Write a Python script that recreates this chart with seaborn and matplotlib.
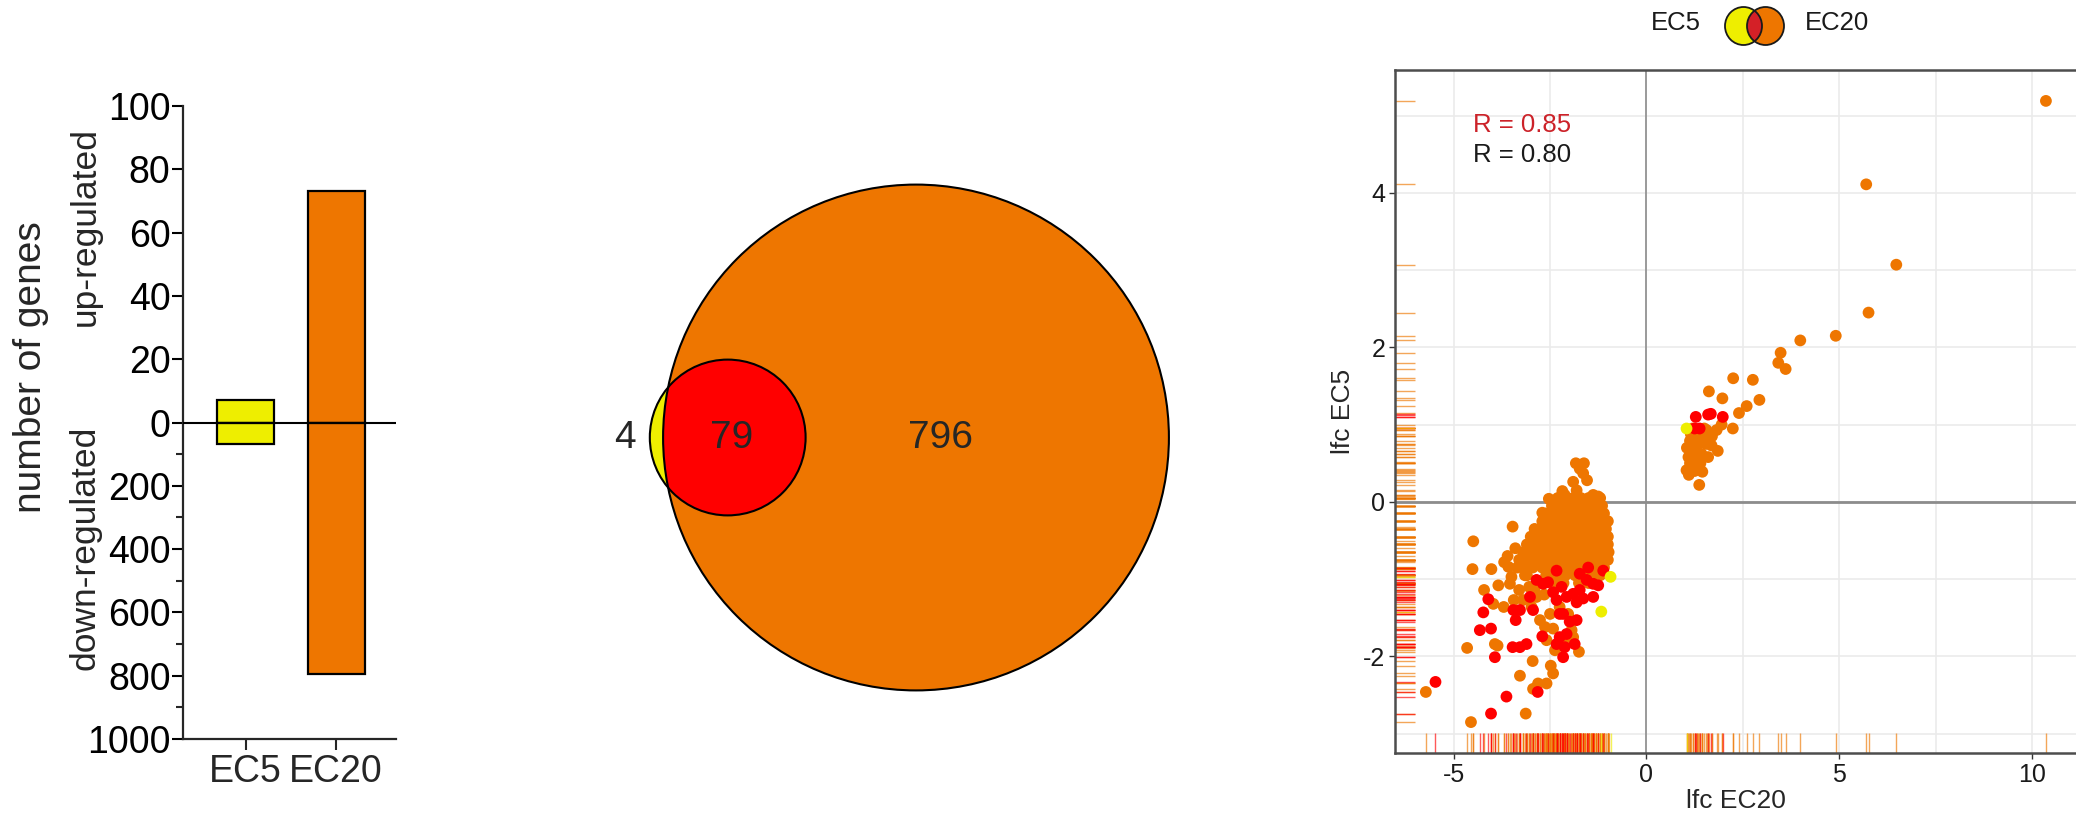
import numpy as np
import pandas as pd
import matplotlib
matplotlib.use("Agg")
import matplotlib.pyplot as plt
import seaborn as sns
from matplotlib.patches import Circle, Ellipse

sns.set_style("ticks")
plt.rcParams['font.family'] = ['Liberation Sans', 'DejaVu Sans']
plt.rcParams['axes.unicode_minus'] = False

YELLOW = '#EEEE00'
ORANGE = '#EE7600'
RED = '#FF0000'

# bar chart: number of DE genes
groups = ['EC5', 'EC20']
n_up = [7, 73]
n_down = [68, 795]

# venn counts
only_ec5 = 4
both = 79
only_ec20 = 796

# scatter: lfc EC20 (x) vs lfc EC5 (y)
orange_x = [10.36, 5.70, 6.48, 5.76, 4.91, 3.99, 3.48, 3.42, 3.61, 2.25, 2.76, 1.62, 1.97, 2.93, 2.60,
            2.40, 2.24, 1.85, 1.60, 1.37, 1.04, 1.45, 1.82, 1.95, 1.55, 1.69, 1.13, 1.22, 1.09, 1.26,
            1.43, 1.56, 1.13, 1.35, 1.05, 1.15, 1.30, 1.45, 1.40, 1.25, 1.10, 1.70, 1.50, 1.30, 1.20,
            # lower cluster, dense part
            -2.3, -2.1, -1.9, -1.7, -1.5, -1.35, -1.2,
            -2.45, -2.25, -2.05, -1.85, -1.65, -1.45, -1.3, -1.15,
            -2.6, -2.4, -2.2, -2.0, -1.8, -1.6, -1.4, -1.25, -1.1,
            -2.7, -2.5, -2.3, -2.1, -1.9, -1.7, -1.5, -1.3, -1.1, -1.0,
            -2.9, -2.65, -2.45, -2.25, -2.05, -1.85, -1.65, -1.45, -1.25, -1.05,
            -3.0, -2.75, -2.55, -2.35, -2.15, -1.95, -1.75, -1.55, -1.35, -1.15, -1.0,
            -3.1, -2.85, -2.6, -2.4, -2.2, -2.0, -1.8, -1.6, -1.4, -1.2, -1.0,
            -3.2, -2.95, -2.7, -2.5, -2.3, -2.1, -1.9, -1.7, -1.5, -1.3, -1.1, -0.98,
            -3.3, -3.05, -2.8, -2.55, -2.35, -2.15, -1.95, -1.75, -1.55, -1.35, -1.15, -1.0,
            -3.2, -2.95, -2.7, -2.45, -2.25, -2.05, -1.85, -1.65, -1.45, -1.25, -1.1,
            -3.1, -2.6, -2.35, -2.1, -1.85, -1.6, -1.4, -1.2,
            -2.85, -2.4, -2.15, -1.75, -1.5, -1.3,
            # lower cluster, top tail and scattered points
            -1.83, -1.62, -1.73, -1.64, -1.54, -1.90, -1.81, -2.12, -1.38, -1.25, -2.53, -2.18,
            -2.70, -3.47, -4.49, -4.51, -4.02, -4.21, -3.84, -3.69, -3.58, -3.50, -3.54, -3.97,
            -3.70, -3.44, -3.30, -3.04, -4.65, -3.93, -3.86, -3.28, -2.95, -2.48, -2.42, -2.59,
            -2.81, -2.94, -3.13, -4.55, -5.72, -2.76, -2.63, -2.50, -2.42, -2.59, -2.37, -2.07,
            -1.94, -1.90, -1.75, -2.25, -2.03, -2.85, -3.20, -2.98,
            -3.40, -3.60, -3.35, -3.15, -2.90, -2.65]
orange_y = [5.19, 4.11, 3.07, 2.45, 2.15, 2.09, 1.93, 1.80, 1.72, 1.60, 1.58, 1.43, 1.34, 1.32, 1.24,
            1.15, 0.95, 0.66, 0.58, 0.22, 0.41, 0.39, 0.93, 1.00, 0.75, 0.73, 0.79, 0.66, 0.58, 0.52,
            0.62, 0.93, 0.50, 0.75, 0.70, 0.88, 0.85, 0.85, 0.50, 0.40, 0.35, 0.85, 0.95, 0.62, 0.95,
            0.05, 0.05, 0.05, 0.05, 0.05, 0.05, 0.05,
            -0.05, -0.05, -0.05, -0.05, -0.05, -0.05, -0.05, -0.05,
            -0.15, -0.15, -0.15, -0.15, -0.15, -0.15, -0.15, -0.15, -0.15,
            -0.25, -0.25, -0.25, -0.25, -0.25, -0.25, -0.25, -0.25, -0.25, -0.25,
            -0.35, -0.35, -0.35, -0.35, -0.35, -0.35, -0.35, -0.35, -0.35, -0.35,
            -0.45, -0.45, -0.45, -0.45, -0.45, -0.45, -0.45, -0.45, -0.45, -0.45, -0.45,
            -0.55, -0.55, -0.55, -0.55, -0.55, -0.55, -0.55, -0.55, -0.55, -0.55, -0.55,
            -0.65, -0.65, -0.65, -0.65, -0.65, -0.65, -0.65, -0.65, -0.65, -0.65, -0.65, -0.65,
            -0.75, -0.75, -0.75, -0.75, -0.75, -0.75, -0.75, -0.75, -0.75, -0.75, -0.75, -0.75,
            -0.85, -0.85, -0.85, -0.85, -0.85, -0.85, -0.85, -0.85, -0.85, -0.85, -0.85,
            -0.95, -0.95, -0.95, -0.95, -0.95, -0.95, -0.95, -0.95,
            -1.05, -1.05, -1.05, -1.05, -1.05, -1.05,
            0.50, 0.50, 0.43, 0.37, 0.28, 0.26, 0.15, 0.09, 0.09, 0.07, 0.04, 0.14,
            -0.14, -0.32, -0.51, -0.87, -0.87, -1.14, -1.08, -0.78, -0.84, -0.97, -1.06, -1.32,
            -1.36, -1.27, -1.14, -1.10, -1.89, -1.84, -1.86, -2.25, -2.06, -2.12, -2.22, -2.35,
            -2.35, -2.42, -2.74, -2.85, -2.46, -1.53, -1.62, -1.45, -1.64, -1.79, -1.92, -1.79,
            -1.66, -1.75, -1.94, -1.36, -1.45, -1.23, -1.27, -1.36,
            -0.60, -0.70, -0.85, -0.95, -1.15, -1.20]
red_x = [1.28, 1.60, 1.67, 1.98, 1.25, 1.38,
         -5.47, -3.63, -4.03, -2.82, -4.32, -4.03, -3.93, -4.23, -4.10, -3.45, -3.28, -3.39,
         -2.94, -3.47, -3.28, -3.11, -2.70, -2.33, -2.20, -2.42, -2.68, -2.85, -2.55, -2.07,
         -1.90, -1.73, -1.55, -1.38, -1.25, -1.12, -1.51, -3.02, -2.25, -2.16, -1.99, -1.81,
         -2.07, -2.25, -2.33, -2.16, -2.12, -1.86, -2.33, -1.81, -1.64, -1.38, -1.73]
red_y = [1.10, 1.13, 1.14, 1.10, 0.95, 0.95,
         -2.33, -2.52, -2.74, -2.46, -1.66, -1.64, -2.01, -1.43, -1.26, -1.40, -1.40, -1.53,
         -1.40, -1.88, -1.88, -1.84, -1.74, -0.89, -1.10, -1.17, -1.06, -1.01, -1.04, -1.23,
         -1.19, -1.14, -1.01, -1.06, -1.08, -0.89, -0.85, -1.23, -1.45, -1.45, -1.55, -1.53,
         -1.71, -1.75, -1.84, -2.01, -1.88, -1.84, -1.27, -1.30, -1.25, -1.23, -0.93]
yellow_x = [1.04, -0.93, -1.17]
yellow_y = [0.95, -0.97, -1.42]

W, H = 2076, 817
fig = plt.figure(figsize=(W / 100, H / 100), dpi=100)

# ---------- panel 1: up / down bars on a split y axis ----------
ax1 = fig.add_axes([183 / W, 1 - 739 / H, 213 / W, 633 / H])


def fwd(y):
    y = np.asarray(y, dtype=float)
    return np.where(y >= 0, y, y / 10.0)


def inv(y):
    y = np.asarray(y, dtype=float)
    return np.where(y >= 0, y, y * 10.0)


sns.barplot(x=groups, y=n_up, hue=groups, palette=[YELLOW, ORANGE], width=0.63, saturation=1,
            edgecolor='black', linewidth=1.6, legend=False, ax=ax1)
sns.barplot(x=groups, y=[-d for d in n_down], hue=groups, palette=[YELLOW, ORANGE], width=0.63,
            saturation=1, edgecolor='black', linewidth=1.6, legend=False, ax=ax1)
ax1.set_yscale('function', functions=(fwd, inv))
ax1.set_ylim(-1000, 100)
ax1.set_xlim(-0.69, 1.66)
ax1.axhline(0, color='black', lw=1.5, zorder=5)
major = [100, 80, 60, 40, 20, 0, -200, -400, -600, -800, -1000]
ax1.set_yticks(major)
ax1.set_yticklabels([str(abs(v)) for v in major])
ax1.set_yticks([-100, -300, -500, -700, -900], minor=True)
ax1.tick_params(axis='y', which='major', labelsize=27, length=8, width=1.5, pad=1, colors='black')
ax1.tick_params(axis='y', which='minor', length=5, width=1.5)
ax1.tick_params(axis='x', labelsize=27, length=8, width=1.5, pad=3)
for s in ['left', 'bottom']:
    ax1.spines[s].set_linewidth(1.6)
sns.despine(ax=ax1)
ax1.set_xlabel('')
ax1.set_ylabel('')

fig.text(31 / W, 1 - 367 / H, 'number of genes', rotation=90, ha='center', va='center', fontsize=28)
fig.text(85 / W, 1 - 227 / H, 'up-regulated', rotation=90, ha='center', va='center', fontsize=25.5)
fig.text(85 / W, 1 - 548 / H, 'down-regulated', rotation=90, ha='center', va='center', fontsize=25.5)

# ---------- panel 2: area-proportional venn ----------
ax2 = fig.add_axes([600 / W, 1 - 720 / H, 600 / W, 570 / H])
ax2.set_xlim(0, 600)
ax2.set_ylim(0, 570)
ax2.set_aspect('equal')
ax2.axis('off')

K = 8.55
R_big = K * np.sqrt(only_ec20 + both)
r_small = K * np.sqrt(only_ec5 + both)


def lens_area(d, r, R):
    a1 = r ** 2 * np.arccos((d ** 2 + r ** 2 - R ** 2) / (2 * d * r))
    a2 = R ** 2 * np.arccos((d ** 2 + R ** 2 - r ** 2) / (2 * d * R))
    a3 = 0.5 * np.sqrt((-d + r + R) * (d + r - R) * (d - r + R) * (d + r + R))
    return a1 + a2 - a3


target = both * np.pi * K ** 2
lo, hi = R_big - r_small + 1e-6, R_big + r_small - 1e-6
for _ in range(60):
    mid = (lo + hi) / 2
    if lens_area(mid, r_small, R_big) > target:
        lo = mid
    else:
        hi = mid
dist = (lo + hi) / 2

cx_big, cy = 316, 282.5
cx_small = cx_big - dist
big = Circle((cx_big, cy), R_big, facecolor=ORANGE, edgecolor='none')
ax2.add_patch(big)
ax2.add_patch(Circle((cx_small, cy), r_small, facecolor=YELLOW, edgecolor='none'))
inter = Circle((cx_small, cy), r_small, facecolor=RED, edgecolor='none')
ax2.add_patch(inter)
inter.set_clip_path(big)
ax2.add_patch(Circle((cx_big, cy), R_big, facecolor='none', edgecolor='black', lw=1.5))
ax2.add_patch(Circle((cx_small, cy), r_small, facecolor='none', edgecolor='black', lw=1.5))
ax2.text(25, cy, str(only_ec5), ha='center', va='center', fontsize=28)
ax2.text(132, cy, str(both), ha='center', va='center', fontsize=28)
ax2.text(341, cy, str(only_ec20), ha='center', va='center', fontsize=28)

# ---------- panel 3: scatter with rugs ----------
df = pd.DataFrame({
    'lfc_ec20': orange_x + red_x + yellow_x,
    'lfc_ec5': orange_y + red_y + yellow_y,
    'group': ['EC20'] * len(orange_x) + ['both'] * len(red_x) + ['EC5'] * len(yellow_x),
})
pal = {'EC20': ORANGE, 'both': RED, 'EC5': YELLOW}

ax3 = fig.add_axes([1395 / W, 1 - 753 / H, (W - 1395) / W, 683 / H])
ax3.set_axisbelow(True)
ax3.set_xlim(-6.52, 11.14)
ax3.set_ylim(-3.25, 5.59)
ax3.set_xticks([-5, 0, 5, 10])
ax3.set_xticks([-2.5, 2.5, 7.5], minor=True)
ax3.set_yticks([-2, 0, 2, 4])
ax3.set_yticks([-3, -1, 1, 3, 5], minor=True)
ax3.grid(which='both', color='#EBEBEB', lw=1.2)
ax3.axhline(0, color='#8C8C8C', lw=2.0, zorder=1)
ax3.axvline(0, color='#8C8C8C', lw=1.2, zorder=1)
sns.rugplot(data=df, x='lfc_ec20', hue='group', palette=pal, height=0.03, alpha=0.65,
            lw=1.8, legend=False, ax=ax3)
sns.rugplot(data=df, y='lfc_ec5', hue='group', palette=pal, height=0.03, alpha=0.65,
            lw=1.8, legend=False, ax=ax3)
sns.scatterplot(data=df, x='lfc_ec20', y='lfc_ec5', hue='group', palette=pal, s=72,
                linewidth=0, legend=False, ax=ax3, zorder=3)
ax3.tick_params(which='major', labelsize=18, length=4, width=1, color='#333333',
                labelcolor='#1A1A1A', pad=3)
ax3.tick_params(which='minor', length=0)
for s in ['left', 'bottom', 'top']:
    ax3.spines[s].set_color('#4D4D4D')
    ax3.spines[s].set_linewidth(1.8)
ax3.spines['right'].set_visible(False)
ax3.set_xlabel('lfc EC20', fontsize=19, labelpad=2)
ax3.set_ylabel('lfc EC5', fontsize=19, labelpad=6)
ax3.text(-4.49, 4.88, 'R = 0.85', color='#CC2229', fontsize=18.5, ha='left', va='center')
ax3.text(-4.49, 4.49, 'R = 0.80', color='#1A1A1A', fontsize=18.5, ha='left', va='center')

# legend at top: EC5 (venn icon) EC20
fig.text(1676 / W, 1 - 23 / H, 'EC5', ha='center', va='center', fontsize=18.5, color='#1A1A1A')
fig.text(1837 / W, 1 - 23 / H, 'EC20', ha='center', va='center', fontsize=18.5, color='#1A1A1A')
axl = fig.add_axes([1720 / W, 1 - 50 / H, 70 / W, 48 / H])
axl.set_xlim(0, 70)
axl.set_ylim(0, 48)
axl.axis('off')
e_left = Ellipse((23.5, 24), 37, 38, facecolor=YELLOW, edgecolor='none')
e_right = Ellipse((45.5, 24), 37, 38, facecolor=ORANGE, edgecolor='none')
axl.add_patch(e_left)
axl.add_patch(e_right)
e_mid = Ellipse((45.5, 24), 37, 38, facecolor='#D42027', edgecolor='none')
axl.add_patch(e_mid)
e_mid.set_clip_path(e_left)
axl.add_patch(Ellipse((23.5, 24), 37, 38, facecolor='none', edgecolor='#1A1A1A', lw=1.3))
axl.add_patch(Ellipse((45.5, 24), 37, 38, facecolor='none', edgecolor='#1A1A1A', lw=1.3))

fig.savefig('out.png', dpi=100, facecolor='white')
